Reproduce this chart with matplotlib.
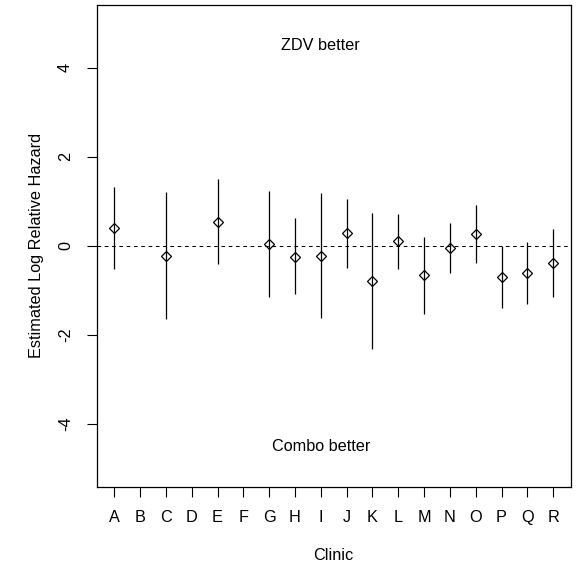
import numpy as np
import matplotlib
matplotlib.use("Agg")
from matplotlib import pyplot as plt

plt.rcParams['font.family'] = ['Liberation Sans', 'DejaVu Sans']

# clinics A..R, no estimate for B, D, F
clinics = list("ABCDEFGHIJKLMNOPQR")
estimate = [0.40, np.nan, -0.22, np.nan, 0.54, np.nan, 0.04, -0.24, -0.22,
            0.28, -0.79, 0.11, -0.66, -0.05, 0.27, -0.71, -0.61, -0.38]
lower = [-0.51, np.nan, -1.65, np.nan, -0.41, np.nan, -1.15, -1.09, -1.63,
         -0.49, -2.32, -0.52, -1.53, -0.62, -0.39, -1.39, -1.30, -1.15]
upper = [1.32, np.nan, 1.21, np.nan, 1.50, np.nan, 1.24, 0.62, 1.18,
         1.05, 0.73, 0.72, 0.21, 0.51, 0.92, 0.00, 0.08, 0.37]
yticks = [-4, -2, 0, 2, 4]

x = np.arange(1, len(clinics) + 1)

fig = plt.figure(figsize=(5.76, 5.68), dpi=100)
ax = fig.add_axes([96.7/576, 1 - 486.7/568, 474/576, 481.7/568])

ax.vlines(x, lower, upper, color='black', lw=0.9)
ax.plot(x, estimate, 'D', ms=5, mfc='none', mec='black', mew=0.9)
ax.axhline(0, color='black', lw=0.75, dashes=(3.5, 3.5))

ax.text(9, 4.5, "ZDV better", ha='center', va='center', fontsize=11.7)
ax.text(9, -4.5, "Combo better", ha='center', va='center', fontsize=11.7)

ax.set_xlim(0.32, 18.68)
ax.set_ylim(-5.41, 5.41)
ax.set_xticks(x)
ax.set_xticklabels(clinics)
ax.set_yticks(yticks)
ax.set_yticklabels([str(v) for v in yticks], rotation=90, va='center')
ax.tick_params(length=7, width=0.8, labelsize=11.7, pad=10)
for s in ax.spines.values():
    s.set_linewidth(0.9)

ax.set_xlabel("Clinic", fontsize=11.7, va='center')
ax.xaxis.set_label_coords(0.5, -0.1418)
ax.set_ylabel("Estimated Log Relative Hazard", fontsize=11.7, va='center')
ax.yaxis.set_label_coords(-0.1266, 0.5)

fig.savefig("out.png", dpi=100)
